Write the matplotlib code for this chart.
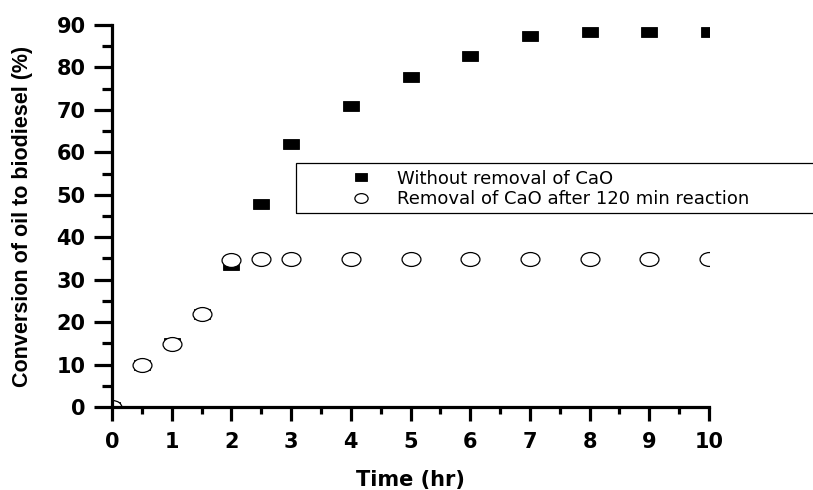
import matplotlib
matplotlib.use("Agg")
import matplotlib.pyplot as plt
from matplotlib.markers import MarkerStyle
from matplotlib.patches import Rectangle
from matplotlib.ticker import MultipleLocator
from matplotlib.transforms import Affine2D

# time (hr) and conversion (%)
time_hr = [0, 0.5, 1, 1.5, 2, 2.5, 3, 4, 5, 6, 7, 8, 9, 10]
without_removal = [0, 10, 15, 22, 33.5, 47.8, 62, 70.8, 77.8, 82.8, 87.3, 88.4, 88.4, 88.4]
removal_120 = [0, 9.9, 14.8, 21.9, 34.6, 34.8, 34.8, 34.9, 34.9, 34.9, 34.9, 34.9, 34.9, 34.9]

label_a = "Without removal of CaO"
label_b = "Removal of CaO after 120 min reaction"

fig = plt.figure(figsize=(8.13, 4.90), dpi=100)
ax = fig.add_axes([112 / 813, 1 - 407 / 490, 597 / 813, 382 / 490])

# the original picture is a bit stretched sideways, so are the markers
sq = MarkerStyle("s", transform=Affine2D().scale(1.55, 1.0))
circ = MarkerStyle("o", transform=Affine2D().scale(1.36, 1.0))

ax.plot(time_hr, without_removal, linestyle="none", marker=sq, ms=7.8,
        mfc="black", mec="black", mew=0.6, label=label_a)
ax.plot(time_hr, removal_120, linestyle="none", marker=circ, ms=10,
        mfc="white", mec="black", mew=0.9, label=label_b)

ax.set_xlim(0, 10)
ax.set_ylim(0, 90)
ax.xaxis.set_major_locator(MultipleLocator(1))
ax.xaxis.set_minor_locator(MultipleLocator(0.5))
ax.yaxis.set_major_locator(MultipleLocator(10))
ax.yaxis.set_minor_locator(MultipleLocator(5))

for side in ["top", "right"]:
    ax.spines[side].set_visible(False)
for side in ["left", "bottom"]:
    ax.spines[side].set_linewidth(2.3)

ax.tick_params(axis="x", which="major", direction="out", length=10, width=2.3, pad=8)
ax.tick_params(axis="x", which="minor", direction="out", length=5, width=2.3)
ax.tick_params(axis="y", which="major", direction="out", length=13, width=2.3, pad=6)
ax.tick_params(axis="y", which="minor", direction="out", length=7, width=2.3)
for lab in ax.get_xticklabels() + ax.get_yticklabels():
    lab.set_fontfamily("DejaVu Sans")
    lab.set_fontweight("bold")
    lab.set_fontsize(15)

ax.set_xlabel("Time (hr)", fontfamily="DejaVu Sans", fontweight="bold",
              fontsize=15, labelpad=13)
ax.set_ylabel("Conversion of oil to biodiesel (%)", fontfamily="Liberation Sans",
              fontweight="bold", fontsize=15.5, labelpad=17)

# legend box runs off the right edge in the original
ax.add_patch(Rectangle((0.308, 0.509), 1.2, 0.129, transform=ax.transAxes,
                       fill=False, lw=0.9, ec="black", clip_on=False))
leg = ax.legend(loc="upper left", bbox_to_anchor=(0.402, 0.621), frameon=False,
                borderpad=0, borderaxespad=0, handlelength=1.0,
                handletextpad=1.5, labelspacing=0.12, markerscale=0.7,
                prop={"family": "DejaVu Sans", "size": 13})

fig.savefig("out.png", dpi=100)
